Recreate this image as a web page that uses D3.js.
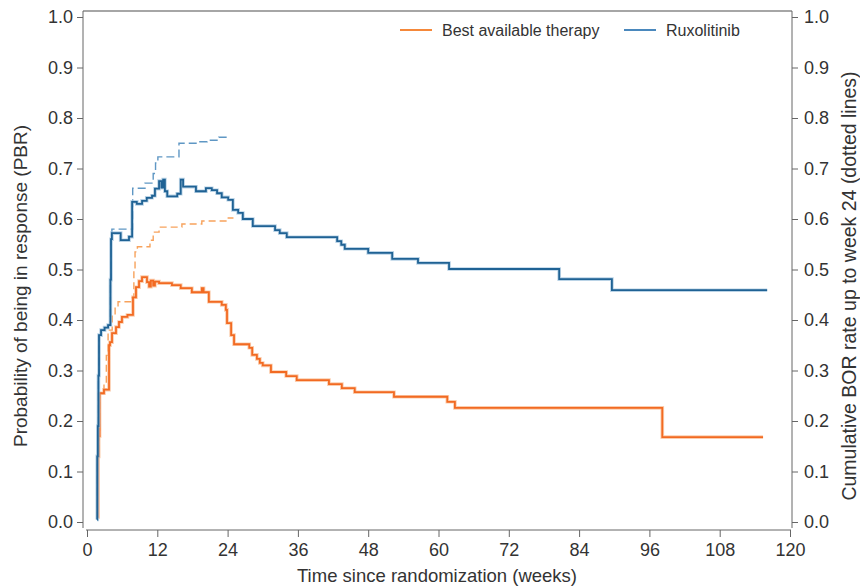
<!DOCTYPE html>
<html>
<head>
<meta charset="utf-8">
<script src="https://cdn.jsdelivr.net/npm/d3@7"></script>
<style>
body { margin: 0; background: #fff; }
text { font-family: "Liberation Sans", Arial, sans-serif; fill: #333; }
</style>
</head>
<body>
<svg id="chart" width="860" height="588"></svg>
<script>
// x ticks (weeks) and y ticks
var xTicks = [0, 12, 24, 36, 48, 60, 72, 84, 96, 108, 120]
var yTicks = [0, 0.1, 0.2, 0.3, 0.4, 0.5, 0.6, 0.7, 0.8, 0.9, 1.0]
var seriesNames = ["Best available therapy", "Ruxolitinib"]

// probability of being in response, [week, value] steps
var batPBR = [[1.8,0.01],[1.9,0.13],[2.0,0.17],[2.15,0.255],[2.9,0.262],[3.76,0.35],[3.93,0.356],
  [4.27,0.374],[4.95,0.386],[5.46,0.396],[5.97,0.406],[6.9,0.41],[7.85,0.445],[8.36,0.465],
  [8.88,0.477],[9.39,0.485],[10.24,0.475],[10.6,0.466],[10.9,0.478],[11.3,0.468],[11.6,0.476],
  [12.3,0.473],[14.5,0.469],[16.0,0.463],[17.9,0.455],[19.6,0.463],[19.9,0.455],[20.8,0.436],
  [23.0,0.43],[23.7,0.42],[23.9,0.394],[24.6,0.37],[25.1,0.352],[27.7,0.345],[28.2,0.331],
  [29.0,0.323],[29.5,0.315],[30.0,0.31],[31.4,0.297],[34.0,0.289],[35.8,0.281],[41.3,0.273],
  [43.5,0.265],[45.7,0.257],[52.4,0.248],[61.5,0.238],[62.8,0.226],[98.2,0.168],[115.4,0.168]]
var ruxPBR = [[1.7,0.005],[1.75,0.13],[1.85,0.19],[1.95,0.29],[2.05,0.37],[2.4,0.38],[3.0,0.385],
  [3.6,0.39],[4.0,0.48],[4.1,0.56],[4.25,0.572],[5.75,0.558],[7.17,0.565],[7.7,0.634],[8.5,0.63],
  [9.4,0.636],[10.2,0.642],[11.1,0.646],[11.6,0.66],[12.3,0.675],[12.7,0.662],[13.0,0.678],
  [13.3,0.655],[13.7,0.645],[15.4,0.65],[16.0,0.678],[16.4,0.664],[18.6,0.655],[20.3,0.661],
  [21.3,0.657],[22.2,0.651],[23.0,0.643],[24.1,0.638],[24.9,0.618],[25.8,0.612],[26.6,0.6],
  [28.3,0.586],[32.1,0.578],[32.9,0.572],[34.1,0.564],[42.7,0.556],[43.4,0.549],[44.0,0.541],
  [48.0,0.533],[52.1,0.521],[56.5,0.513],[61.8,0.501],[80.6,0.481],[89.6,0.459],[116.1,0.459]]

// cumulative BOR rate up to week 24 (dashed)
var batBOR = [[1.8,0.01],[1.9,0.13],[2.0,0.17],[2.15,0.255],[2.9,0.275],[3.3,0.33],[3.6,0.38],
  [4.3,0.41],[4.8,0.425],[5.3,0.436],[7.5,0.444],[8.0,0.5],[8.2,0.535],[8.6,0.545],[10.75,0.558],
  [11.3,0.574],[12.3,0.584],[16.2,0.59],[19.6,0.596],[23.9,0.602],[25.0,0.602]]
var ruxBOR = [[1.7,0.005],[1.75,0.13],[1.85,0.19],[1.95,0.29],[2.05,0.37],[2.4,0.38],[3.0,0.385],
  [3.6,0.39],[4.0,0.48],[4.1,0.56],[4.25,0.58],[7.8,0.661],[9.9,0.671],[11.3,0.69],[11.7,0.711],
  [12.1,0.723],[15.7,0.75],[18.8,0.753],[20.5,0.756],[22.5,0.762],[24.1,0.762]]

var svg = d3.select("#chart")

var x = d3.scaleLinear().domain([0, 120]).range([87, 790])
var y = d3.scaleLinear().domain([0, 1]).range([522, 17])

var minorY = d3.range(0, 1.001, 0.02)
var minorX = d3.range(0, 121, 2)

// top frame line
svg.append("line")
  .attr("x1", 83).attr("x2", 792).attr("y1", 11).attr("y2", 11)
  .attr("stroke", "#888").attr("stroke-width", 1.5)

// left axis
var gl = svg.append("g").attr("transform", "translate(83,0)")
gl.call(d3.axisLeft(y).tickValues(minorY).tickSize(3).tickFormat(""))
gl.call(d3.axisLeft(y).tickValues(yTicks).tickSize(6).tickFormat(d3.format(".1f")))
gl.selectAll(".domain").remove()
gl.append("line").attr("y1", 11).attr("y2", 528).attr("stroke", "#666")

// right axis
var gr = svg.append("g").attr("transform", "translate(792,0)")
gr.call(d3.axisRight(y).tickValues(minorY).tickSize(3).tickFormat(""))
gr.call(d3.axisRight(y).tickValues(yTicks).tickSize(6).tickFormat(d3.format(".1f")))
gr.selectAll(".domain").remove()
gr.append("line").attr("y1", 11).attr("y2", 528).attr("stroke", "#666")

// bottom axis
var gb = svg.append("g").attr("transform", "translate(0,530)")
gb.call(d3.axisBottom(x).tickValues(minorX).tickSize(4).tickFormat(""))
gb.call(d3.axisBottom(x).tickValues(xTicks).tickSize(7).tickPadding(6))
gb.selectAll(".domain").remove()
gb.append("line").attr("x1", 86).attr("x2", 791).attr("stroke", "#666")

svg.selectAll(".tick line").attr("stroke", "#666")
svg.selectAll(".tick text").style("font-size", "18px").attr("fill", "#333")
gl.selectAll(".tick text").attr("dx", "-1")
gr.selectAll(".tick text").attr("dx", "3")

// axis titles
svg.append("text")
  .attr("transform", "translate(27,286) rotate(-90)")
  .attr("text-anchor", "middle")
  .style("font-size", "19px")
  .text("Probability of being in response (PBR)")
svg.append("text")
  .attr("transform", "translate(856,286) rotate(-90)")
  .attr("text-anchor", "middle")
  .style("font-size", "19.5px")
  .text("Cumulative BOR rate up to week 24 (dotted lines)")
svg.append("text")
  .attr("x", 437).attr("y", 582)
  .attr("text-anchor", "middle")
  .style("font-size", "18.5px")
  .text("Time since randomization (weeks)")

var line = d3.line()
  .x(function(d) { return x(d[0]) })
  .y(function(d) { return y(d[1]) })
  .curve(d3.curveStepAfter)

// dashed cumulative lines
svg.append("path").attr("d", line(batBOR))
  .attr("fill", "none").attr("stroke", "#f7a25c").attr("stroke-width", 1.4)
  .attr("stroke-dasharray", "7,4")
svg.append("path").attr("d", line(ruxBOR))
  .attr("fill", "none").attr("stroke", "#5f97c4").attr("stroke-width", 1.4)
  .attr("stroke-dasharray", "8,4")

// solid PBR lines with a light halo
var solid = [[batPBR, "#f26a22", "#f9b88c"], [ruxPBR, "#1f6294", "#9cc0dc"]]
solid.forEach(function(s) {
  svg.append("path").attr("d", line(s[0]))
    .attr("fill", "none").attr("stroke", s[2]).attr("stroke-width", 3.6)
    .attr("stroke-opacity", 0.7)
  svg.append("path").attr("d", line(s[0]))
    .attr("fill", "none").attr("stroke", s[1]).attr("stroke-width", 1.8)
})

// legend
var legColors = ["#f5883a", "#4a88bd"]
var legX = [400, 624]
seriesNames.forEach(function(n, i) {
  svg.append("line")
    .attr("x1", legX[i]).attr("x2", legX[i] + 32).attr("y1", 30).attr("y2", 30)
    .attr("stroke", legColors[i]).attr("stroke-width", 2)
  svg.append("text")
    .attr("x", legX[i] + 42).attr("y", 36)
    .style("font-size", "16px")
    .text(n)
})
</script>
</body>
</html>
